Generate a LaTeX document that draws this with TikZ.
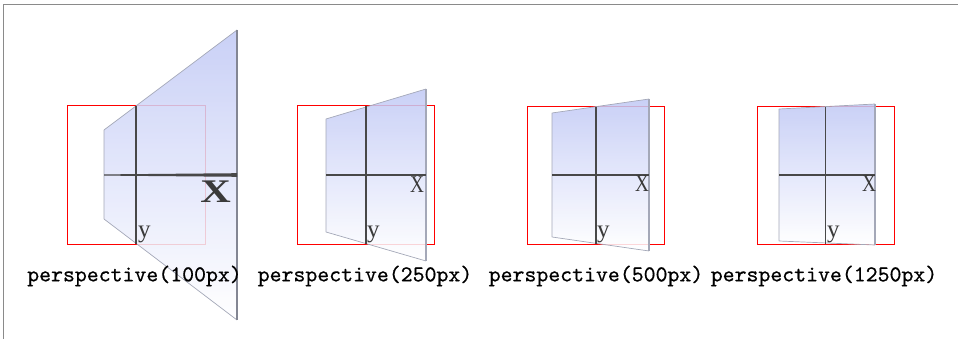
\documentclass[tikz,border=0pt]{standalone}
\usepackage{fontspec}
\setmainfont{Liberation Serif}
\setmonofont{lmmono10-regular.otf}[FakeBold=0.6]
\usetikzlibrary{positioning}
\definecolor{planeblue}{HTML}{C0C8F5}
\definecolor{framegray}{HTML}{8A8A8A}
\definecolor{axisgray}{HTML}{484848}
\definecolor{edgegray}{HTML}{A4A8B8}
\tikzset{window/.style={draw=framegray,line width=1.6pt},
  redbox/.style={draw=red,line width=1pt},
  plane/.style={top color=planeblue,bottom color=white,fill opacity=0.85},
  planeedge/.style={draw=edgegray,line width=0.7pt,line join=round},
  sideedge/.style={draw=edgegray,line width=1.2pt},
  axis/.style={draw=axisgray,line width=1.3pt},
  caption/.style={font=\ttfamily\fontsize{22.7}{26}\selectfont,inner sep=0pt},
  xlabel/.style={font=\fontsize{24}{26}\selectfont,inner sep=0pt,anchor=base,
    xscale=0.8,transform shape,text=axisgray!80!black},
  ylabel/.style={font=\fontsize{25}{26}\selectfont,inner sep=0pt,anchor=base west,
    text=axisgray!80!black}}

\begin{document}
\begin{tikzpicture}[x=1pt,y=-1pt]
  \useasboundingbox (0,0) rectangle (958,339);
  \draw[window] (3.5,339) -- (3.5,4.5) -- (958,4.5);

  % perspective(100px)
  \draw[redbox] (67,106) rectangle (205,244);
  \shade[plane] (104,130) -- (237,30) -- (237,320) -- (104,219) -- cycle;
  \draw[planeedge] (237,30) -- (104,130) -- (104,219) -- (237,320);
  \draw[sideedge,draw=edgegray!80!black,line width=2.6pt] (237,30) -- (237,320);
  \fill[axisgray] (104,174.4) -- (237,173.2) -- (237,176.8) -- (104,175.6) -- cycle;
  \draw[axis] (136,106) -- (136,244);
  \node (xa) [xlabel,font=\bfseries\fontsize{33}{36}\selectfont,xscale=1.6] at (215.5,203) {X};
  \node (ya) [ylabel] at (138,237) {y};
  \node (capa) [caption] at (134.5,276) {perspective(100px)};

  % perspective(250px)
  \draw[redbox] (297,106) rectangle (434,244);
  \shade[plane] (326,119) -- (426,89) -- (426,261) -- (326,232) -- cycle;
  \draw[planeedge] (426,89) -- (326,119) -- (326,232) -- (426,261);
  \draw[sideedge] (426,89) -- (426,261);
  \draw[axis] (326,175) -- (426,175);
  \draw[axis] (366,106) -- (366,244);
  \node (xb) [xlabel] at (417,193) {X};
  \node (yb) [ylabel] at (367,237) {y};
  \node (capb) [caption] at (365,276) {perspective(250px)};

  % perspective(500px)
  \draw[redbox] (527,107) rectangle (664,244);
  \shade[plane] (552,113) -- (649,99) -- (649,251) -- (552,237) -- cycle;
  \draw[planeedge] (649,99) -- (552,113) -- (552,237) -- (649,251);
  \draw[sideedge] (649,99) -- (649,251);
  \draw[axis] (552,175) -- (649,175);
  \draw[axis] (596,107) -- (596,244);
  \node (xc) [xlabel] at (642,192) {X};
  \node (yc) [ylabel] at (597,237) {y};
  \node (capc) [caption] at (596,276) {perspective(500px)};

  % perspective(1250px)
  \draw[redbox] (757,107) rectangle (894,244);
  \shade[plane] (779,109) -- (875,104) -- (875,245) -- (779,241) -- cycle;
  \draw[planeedge] (875,104) -- (779,109) -- (779,241) -- (875,245);
  \draw[sideedge] (875,104) -- (875,245);
  \draw[axis] (779,175) -- (875,175);
  \draw[axis] (825.5,107) -- (825.5,244);
  \node (xd) [xlabel] at (869,192) {X};
  \node (yd) [ylabel] at (827,237) {y};
  \node (capd) [caption] at (824,276) {perspective(1250px)};
\end{tikzpicture}
\end{document}
